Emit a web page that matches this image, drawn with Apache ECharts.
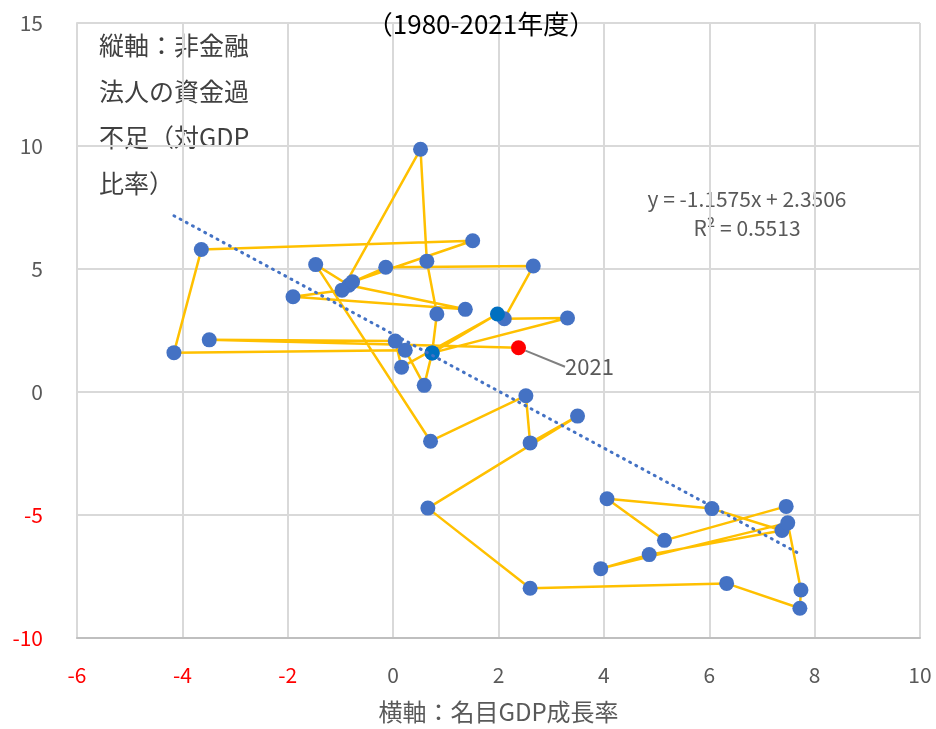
<!DOCTYPE html>
<html>
<head>
<meta charset="utf-8">
<title>名目GDP成長率と非金融法人の資金過不足</title>
<script src="https://cdn.jsdelivr.net/npm/echarts@6/dist/echarts.min.js"></script>
<style>
	html, body { margin: 0; padding: 0; background: #fff; }
	#chart { width: 936px; height: 729px; }
</style>
</head>
<body>
<div id="chart"></div>
<script>
// 年度（線でつなぐ順）
var years = [1980, 1981, 1982, 1983, 1984, 1985, 1986, 1987, 1988, 1989,
	1990, 1991, 1992, 1993, 1994, 1995, 1996, 1997, 1998, 1999,
	2000, 2001, 2002, 2003, 2004, 2005, 2006, 2007, 2008, 2009,
	2010, 2011, 2012, 2013, 2014, 2015, 2016, 2017, 2018, 2019,
	2020, 2021];
/* 横軸：名目GDP成長率 */
var gdpGrowth = [7.46, 5.15, 4.06, 6.05, 7.38, 4.86, 3.94, 7.49, 7.74, 7.72,
	6.33, 2.60, 0.66, 3.50, 2.60, 2.52, 0.71, -1.47, -0.84, 1.37,
	-1.90, -0.97, 0.52, 0.64, 0.83, 0.74, 0.59, 0.23, -4.16, -3.64,
	1.51, -0.77, -0.14, 2.66, 2.11, 3.31, 0.74, 1.98, 0.16, 0.04,
	-3.49, 2.38];
/* 縦軸：非金融法人の資金過不足（対GDP比率） */
var fundBalance = [-4.65, -6.03, -4.34, -4.74, -5.63, -6.61, -7.18, -5.32, -8.05, -8.79,
	-7.78, -7.98, -4.72, -0.98, -2.07, -0.15, -2.00, 5.18, 4.34, 3.36,
	3.87, 4.14, 9.87, 5.32, 3.17, 1.59, 0.27, 1.70, 1.60, 5.79,
	6.15, 4.48, 5.07, 5.12, 2.98, 3.01, 1.59, 3.17, 1.01, 2.07,
	2.12, 1.80];
var darkYears = [2016, 2017];
var labelYears = [2021];
// 近似直線 y = ax + b
var trendSlope = -1.1575;
var trendIntercept = 2.3506;
var trendText = ['y = -1.1575x + 2.3506', 'R² = 0.5513'];

var xTicks = { min: -6, max: 10, interval: 2 };
var yTicks = { min: -10, max: 15, interval: 5 };

window.onload = function () {
	var fontJp = "'Noto Sans CJK JP', 'Noto Sans', sans-serif";
	var chart = echarts.init(document.getElementById('chart'));

	var points = [];
	for (var i = 0; i < years.length; i++) {
		var item = { value: [gdpGrowth[i], fundBalance[i]], name: String(years[i]) };
		if (labelYears.indexOf(years[i]) >= 0) {
			item.itemStyle = { color: '#FF0000' };
			item.label = {
				show: true,
				position: 'right',
				formatter: '{b}',
				color: '#595959',
				fontSize: 22,
				fontFamily: fontJp
			};
			item.labelLine = { show: true, lineStyle: { color: '#808080', width: 2 } };
		} else if (darkYears.indexOf(years[i]) >= 0) {
			item.itemStyle = { color: '#0070C0' };
		}
		points.push(item);
	}

	// 近似直線はデータの最小・最大のxまで
	var xMin = Math.min.apply(null, gdpGrowth);
	var xMax = Math.max.apply(null, gdpGrowth);
	var trendData = [
		[xMin, trendSlope * xMin + trendIntercept],
		[xMax, trendSlope * xMax + trendIntercept]
	];

	var tickColor = function (value) {
		return parseFloat(value) < 0 ? '#FF0000' : '#595959';
	};

	var option = {
		animation: false,
		textStyle: { fontFamily: fontJp },
		title: {
			text: '（1980-2021年度）',
			left: 476,
			top: 6,
			textAlign: 'center',
			textStyle: { color: '#000000', fontSize: 26, fontWeight: 'normal', fontFamily: fontJp }
		},
		grid: { left: 77, right: 16, top: 23, bottom: 86 },
		xAxis: {
			type: 'value',
			min: xTicks.min,
			max: xTicks.max,
			interval: xTicks.interval,
			name: '横軸：名目GDP成長率',
			nameLocation: 'middle',
			nameGap: 62,
			nameTextStyle: { color: '#595959', fontSize: 24, fontFamily: fontJp },
			axisLine: { show: true, onZero: false, lineStyle: { color: '#BFBFBF', width: 2 } },
			axisTick: { show: false },
			axisLabel: { color: tickColor, fontSize: 21, margin: 27, fontFamily: fontJp },
			splitLine: { show: true, lineStyle: { color: '#D9D9D9', width: 2 } }
		},
		yAxis: {
			type: 'value',
			min: yTicks.min,
			max: yTicks.max,
			interval: yTicks.interval,
			axisLine: { show: true, onZero: false, lineStyle: { color: '#D9D9D9', width: 2 } },
			axisTick: { show: false },
			axisLabel: { color: tickColor, fontSize: 21, margin: 34, fontFamily: fontJp },
			splitLine: { show: true, lineStyle: { color: '#D9D9D9', width: 2 } }
		},
		graphic: [
			{
				type: 'text',
				left: 99,
				top: 22,
				style: {
					text: '縦軸：非金融\n法人の資金過\n不足（対GDP\n比率）',
					fill: '#404040',
					font: '25px ' + fontJp,
					lineHeight: 46
				}
			},
			{
				type: 'text',
				x: 747,
				y: 199,
				style: {
					text: trendText[0],
					fill: '#595959',
					font: '21px ' + fontJp,
					align: 'center',
					verticalAlign: 'middle'
				}
			},
			{
				type: 'text',
				x: 747,
				y: 228,
				style: {
					text: trendText[1],
					fill: '#595959',
					font: '21px ' + fontJp,
					align: 'center',
					verticalAlign: 'middle'
				}
			}
		],
		series: [
			{
				name: '資金過不足',
				type: 'line',
				data: points,
				symbol: 'circle',
				symbolSize: 15,
				showSymbol: true,
				itemStyle: { color: '#4472C4' },
				lineStyle: { color: '#FFC000', width: 2.5 },
				labelLayout: { dx: 34, dy: 19 },
				z: 2
			},
			{
				name: '近似直線',
				type: 'line',
				data: trendData,
				symbol: 'none',
				lineStyle: { color: '#4472C4', width: 3, type: [1, 6], cap: 'round' },
				silent: true,
				z: 3
			}
		]
	};
	chart.setOption(option);
};
</script>
</body>
</html>
